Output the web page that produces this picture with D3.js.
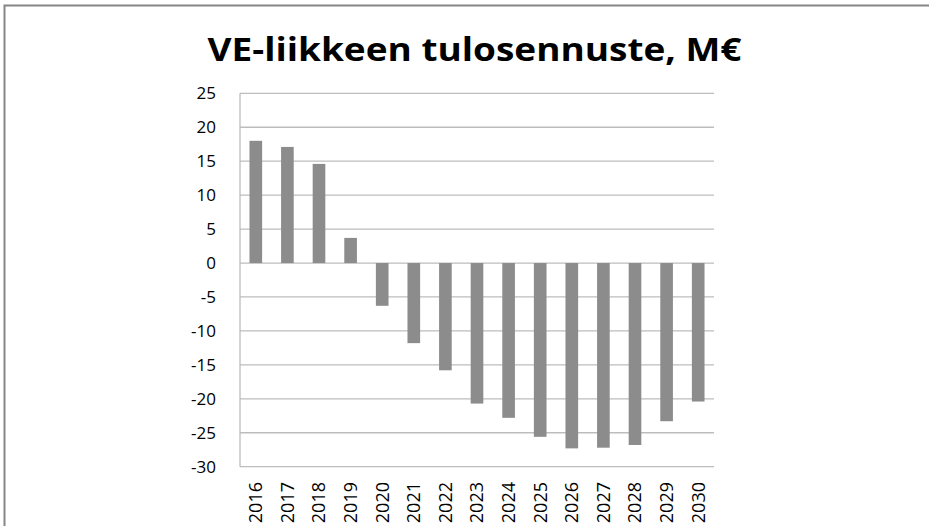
<body style="margin:0;background:#fff">
<div class="chartArea"></div>
<script src="https://cdn.jsdelivr.net/npm/d3@7"></script>
<script>
// chart values
const years = ["2016","2017","2018","2019","2020","2021","2022","2023","2024","2025","2026","2027","2028","2029","2030"];
const values = [18.0, 17.1, 14.6, 3.7, -6.3, -11.8, -15.8, -20.7, -22.8, -25.6, -27.3, -27.2, -26.8, -23.3, -20.4];
const yTicks = [25, 20, 15, 10, 5, 0, -5, -10, -15, -20, -25, -30];

const width = 929, height = 526;
const plotLeft = 240, plotRight = 714, plotTop = 93.3, plotBottom = 466.7;

const svg = d3.select(".chartArea").append("svg")
  .attr("width", width).attr("height", height)
  .style("display", "block");

// outer frame (top and left edge only visible)
svg.append("path")
  .attr("d", `M4.5,${height} V5.5 H${width}`)
  .attr("fill", "none").attr("stroke", "#868686").attr("stroke-width", 2);

const x = d3.scaleBand().domain(years).range([plotLeft, plotRight]).paddingInner(0.6).paddingOuter(0.3);
const y = d3.scaleLinear().domain([-30, 25]).range([plotBottom, plotTop]);

// gridlines
svg.append("g").selectAll("line").data(yTicks).enter().append("line")
  .attr("x1", plotLeft).attr("x2", plotRight)
  .attr("y1", d => y(d)).attr("y2", d => y(d))
  .attr("stroke", "#bdbdbd").attr("stroke-width", 1.3);

// y axis line
svg.append("line").attr("x1", plotLeft).attr("x2", plotLeft)
  .attr("y1", y(25)).attr("y2", y(-30))
  .attr("stroke", "#bdbdbd").attr("stroke-width", 1.3);

// bars
svg.append("g").selectAll("rect").data(values).enter().append("rect")
  .attr("x", (d, i) => x(years[i]))
  .attr("width", x.bandwidth())
  .attr("y", d => y(Math.max(0, d)))
  .attr("height", d => Math.abs(y(d) - y(0)))
  .attr("fill", "#8c8c8c");

// y tick labels
svg.append("g").selectAll("text").data(yTicks).enter().append("text")
  .attr("x", 216).attr("y", d => y(d))
  .attr("dy", "0.36em")
  .attr("text-anchor", "end")
  .attr("font-family", "'Open Sans', sans-serif")
  .attr("font-size", 17)
  .attr("fill", "#000")
  .text(d => d);

// x tick labels, rotated
svg.append("g").selectAll("text").data(years).enter().append("text")
  .attr("transform", d => `translate(${x(d) + x.bandwidth() / 2},482) rotate(-90)`)
  .attr("dy", "0.36em")
  .attr("text-anchor", "end")
  .attr("font-family", "'Open Sans', sans-serif")
  .attr("font-size", 18)
  .attr("fill", "#000")
  .text(d => d);

// title
svg.append("text")
  .attr("x", 474.5).attr("y", 60.5)
  .attr("text-anchor", "middle")
  .attr("font-family", "'Open Sans', sans-serif")
  .attr("font-weight", "bold")
  .attr("font-size", 33)
  .attr("textLength", 534).attr("lengthAdjust", "spacingAndGlyphs")
  .text("VE-liikkeen tulosennuste, M€");
</script>
</body>
